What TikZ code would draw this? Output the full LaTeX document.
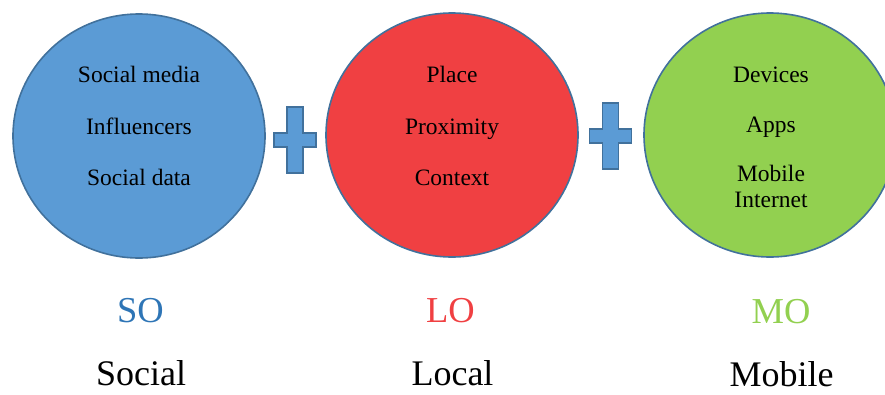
\documentclass[tikz,border=0pt]{standalone}
\usepackage{fontspec}
\setmainfont{Liberation Serif}
\usetikzlibrary{shapes.geometric}

\definecolor{soblue}{HTML}{5B9BD5}
\definecolor{edgeblue}{HTML}{41719C}
\definecolor{lored}{HTML}{F04042}
\definecolor{mogreen}{HTML}{92D050}
\definecolor{solabel}{HTML}{2E75B6}

\tikzset{
  bubble/.style={ellipse, draw=edgeblue, line width=1.6pt, inner sep=0pt,
                 minimum width=252pt, minimum height=244pt},
  item/.style={anchor=base, inner sep=0pt, font=\fontsize{23.5}{27}\selectfont},
  tag/.style={anchor=base, inner sep=0pt, font=\fontsize{36.5}{40}\selectfont},
  word/.style={anchor=base, inner sep=0pt, font=\fontsize{36}{40}\selectfont},
  pics/plussign/.style={code={
    \draw[fill=soblue, draw=edgeblue, line width=1.3pt]
      (-8,-33) -- (8,-33) -- (8,-7) -- (21,-7) -- (21,7) -- (8,7)
      -- (8,33) -- (-8,33) -- (-8,7) -- (-21,7) -- (-21,-7) -- (-8,-7) -- cycle;
  }}
}

\begin{document}
\begin{tikzpicture}[x=1pt, y=-1pt]
  \useasboundingbox (0,0) rectangle (885,394);

  % the three circles
  \node[bubble, fill=soblue]  (so) at (139,136) {};
  \node[bubble, fill=lored]   (lo) at (452,135) {};
  \node[bubble, fill=mogreen] (mo) at (770,135) {};

  % plus signs between them
  \pic (plusA) at (295,140) {plussign};
  \pic (plusB) at (610.5,136) {plussign};

  % contents of the circles
  \node[item] (so1) at (139,82)  {Social media};
  \node[item] (so2) at (139,134) {Influencers};
  \node[item] (so3) at (139,185) {Social data};

  \node[item] (lo1) at (452,82)  {Place};
  \node[item] (lo2) at (452,134) {Proximity};
  \node[item] (lo3) at (452,185) {Context};

  \node[item] (mo1) at (771,82)  {Devices};
  \node[item] (mo2) at (771,132) {Apps};
  \node[item] (mo3) at (771,181) {Mobile};
  \node[item] (mo4) at (771,207) {Internet};

  % abbreviations
  \node[tag, text=solabel] (soTag) at (140.5,322) {SO};
  \node[tag, text=lored]   (loTag) at (450.5,322) {LO};
  \node[tag, text=mogreen] (moTag) at (781,323) {MO};

  % full names
  \node[word] (soWord) at (141,385) {Social};
  \node[word] (loWord) at (452.5,385) {Local};
  \node[word] (moWord) at (781.5,386) {Mobile};
\end{tikzpicture}
\end{document}
